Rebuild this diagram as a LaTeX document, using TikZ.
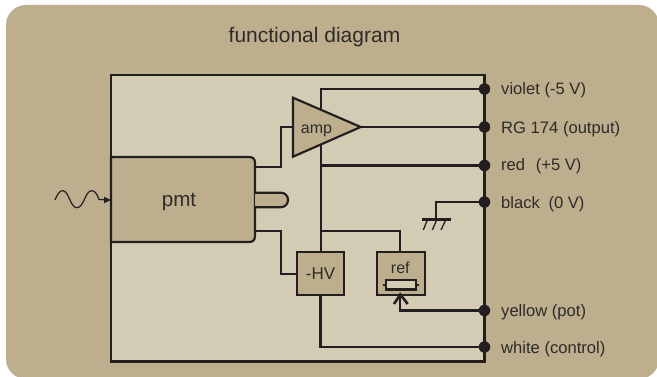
\documentclass[tikz,border=0pt]{standalone}
\usepackage{fontspec}
\setmainfont{Liberation Sans}
\definecolor{bgc}{HTML}{BDAF8E}
\definecolor{inner}{HTML}{D4CBB4}
\definecolor{ink}{HTML}{231F20}
\definecolor{txt}{HTML}{2E2B28}
\tikzset{
  wire/.style={draw=ink,line width=2.15pt,line join=miter},
  thinw/.style={draw=ink,line width=1.3pt},
  block/.style={draw=ink,fill=bgc,line width=2.15pt,rectangle,inner sep=0pt,text=txt,font=\fontsize{17}{19}\selectfont},
  term/.style={circle,fill=ink,inner sep=0pt,minimum size=11.5pt},
  lbl/.style={anchor=west,text=txt,inner sep=0pt,font=\fontsize{16.6}{18}\selectfont},
}
\begin{document}
\begin{tikzpicture}[x=1pt,y=-1pt]
\useasboundingbox (0,0) rectangle (657,377);
\fill[white] (0,0) rectangle (657,377);
\fill[bgc,rounded corners=20pt] (6,5) rectangle (659,379);
\path[fill=inner] (111,75) rectangle (484.5,361.5);
% frame
\coordinate (cbl) at (111,361.5);
\coordinate (ctl) at (111,75);
\coordinate (ctr) at (484.5,75);
\coordinate (cbr) at (484.5,361.5);
\draw[wire] (cbr) -- (ctr) -- (ctl) -- (cbl) -- cycle;
% terminals
\node[term] (tv) at (484.5,89) {};
\node[term] (to) at (484.5,127) {};
\node[term] (tr) at (484.5,165.5) {};
\node[term] (tb) at (484.5,202) {};
\node[term] (ty) at (484.5,310.5) {};
\node[term] (tw) at (484.5,347) {};
% supply rail
\coordinate (railtop) at (320.7,89);
\coordinate (railred) at (320.7,165.5);
\coordinate (railref) at (320.7,230.7);
\coordinate (hvt) at (320.7,252);
\coordinate (reft) at (400.3,252);
\draw[wire] (tv.center) -- (railtop) -- (hvt);
\draw[wire] (railred) -- (tr.center);
\draw[wire] (railref) -- (railref -| reft) -- (reft);
% blocks
\node[block,minimum width=47.5pt,minimum height=43pt] (hv) at (320.5,273.8) {-HV};
\node[block,minimum width=47.5pt,minimum height=43pt] (ref) at (401,273.8) {};
\node[text=txt,inner sep=0pt,font=\fontsize{16}{18}\selectfont,anchor=base] (reflabel) at (400.3,273.5) {ref};
\draw[wire] (hv.south) |- (tw.center);
% pmt
\coordinate (p1) at (111,157);
\coordinate (p4) at (111,242);
\draw[wire,fill=bgc] (p1) -- (249,157) .. controls (253,157) and (255,159) .. (255,163) -- (255,236) .. controls (255,240) and (253,242) .. (249,242) -- (p4) -- cycle;
\node[text=txt,inner sep=0pt,font=\fontsize{20.6}{22}\selectfont] (pmt) at (179,201.5) {pmt};
% stub
\coordinate (s1) at (255,192.7);
\coordinate (s2) at (255,207.2);
\draw[wire,fill=bgc,rounded corners=7pt] (s1) -- (288,192.7) -- (288,207.2) -- (s2);
% amp
\coordinate (a1) at (293,97.7);
\coordinate (a2) at (293,156.7);
\coordinate (a3) at (360.7,127);
\draw[wire,fill=bgc,line join=miter] (a1) -- (a3) -- (a2) -- cycle;
\node[text=txt,inner sep=0pt,font=\fontsize{16}{18}\selectfont] (amp) at (316.5,131) {amp};
\draw[wire] (a3) -- (to.center);
% pmt leads
\coordinate (l1) at (255,166.7);
\coordinate (l2) at (255,231);
\coordinate (am) at (293,126.7);
\draw[wire] (l1) -- (281,166.7) -- (281,126.7) -- (am);
\draw[wire] (l2) -- (281,231) -- (281,273.8) -- (hv.west);
% ground
\coordinate (g) at (435.7,219.7);
\draw[wire] (tb.center) -- (435.7,202) -- (g);
\coordinate (gl) at (422.3,219.7);
\coordinate (gr) at (450.7,219.7);
\draw[wire,line width=2.4pt] (gl) -- (gr);
\draw[thinw] (427.3,220) -- (423.3,230) (436.7,220) -- (432.3,230) (445.7,220) -- (441,230);
% pot
\node[draw=ink,fill=inner,line width=2.15pt,rectangle,minimum width=30pt,minimum height=9.5pt,inner sep=0pt] (res) at (400.7,284.7) {};
\coordinate (rl) at (382.7,284.7);
\coordinate (rr) at (419,284.7);
\draw[wire] (rl) -- (res.west) (res.east) -- (rr);
\coordinate (tip) at (400.3,294.5);
\draw[wire] (ty.center) -- (400.3,310.5) -- (tip);
\draw[draw=ink,line width=2.6pt] (394,304) -- (tip) -- (407.7,304);
% wave
\coordinate (w0) at (55,200);
\coordinate (w2) at (110,200);
\draw[draw=ink,line width=1.2pt] (w0) .. controls (58,193) and (60,190.7) .. (62.6,190.7) .. controls (69,190.7) and (70,207.7) .. (77,207.7) .. controls (84,207.7) and (85,190.7) .. (91.7,190.7) .. controls (95,190.7) and (97,194) .. (99,199.5) -- (w2);
\fill[ink] (110.5,200) -- (104,196.7) -- (104,203.3) -- cycle;
% labels
\node[text=txt,inner sep=0pt,font=\fontsize{21}{24}\selectfont] (title) at (314.5,37) {functional diagram};
\node[lbl] (lv) at (501,90.5) {violet (-5 V)};
\node[lbl] (lo) at (501,129.5) {RG 174 (output)};
\node[lbl] (lr) at (501,166.5) {red\hspace{6pt} (+5 V)};
\node[lbl] (lb) at (501,204.5) {black\hspace{4pt} (0 V)};
\node[lbl] (ly) at (501,312.5) {yellow (pot)};
\node[lbl] (lw) at (501,349.5) {white (control)};
\end{tikzpicture}
\end{document}
